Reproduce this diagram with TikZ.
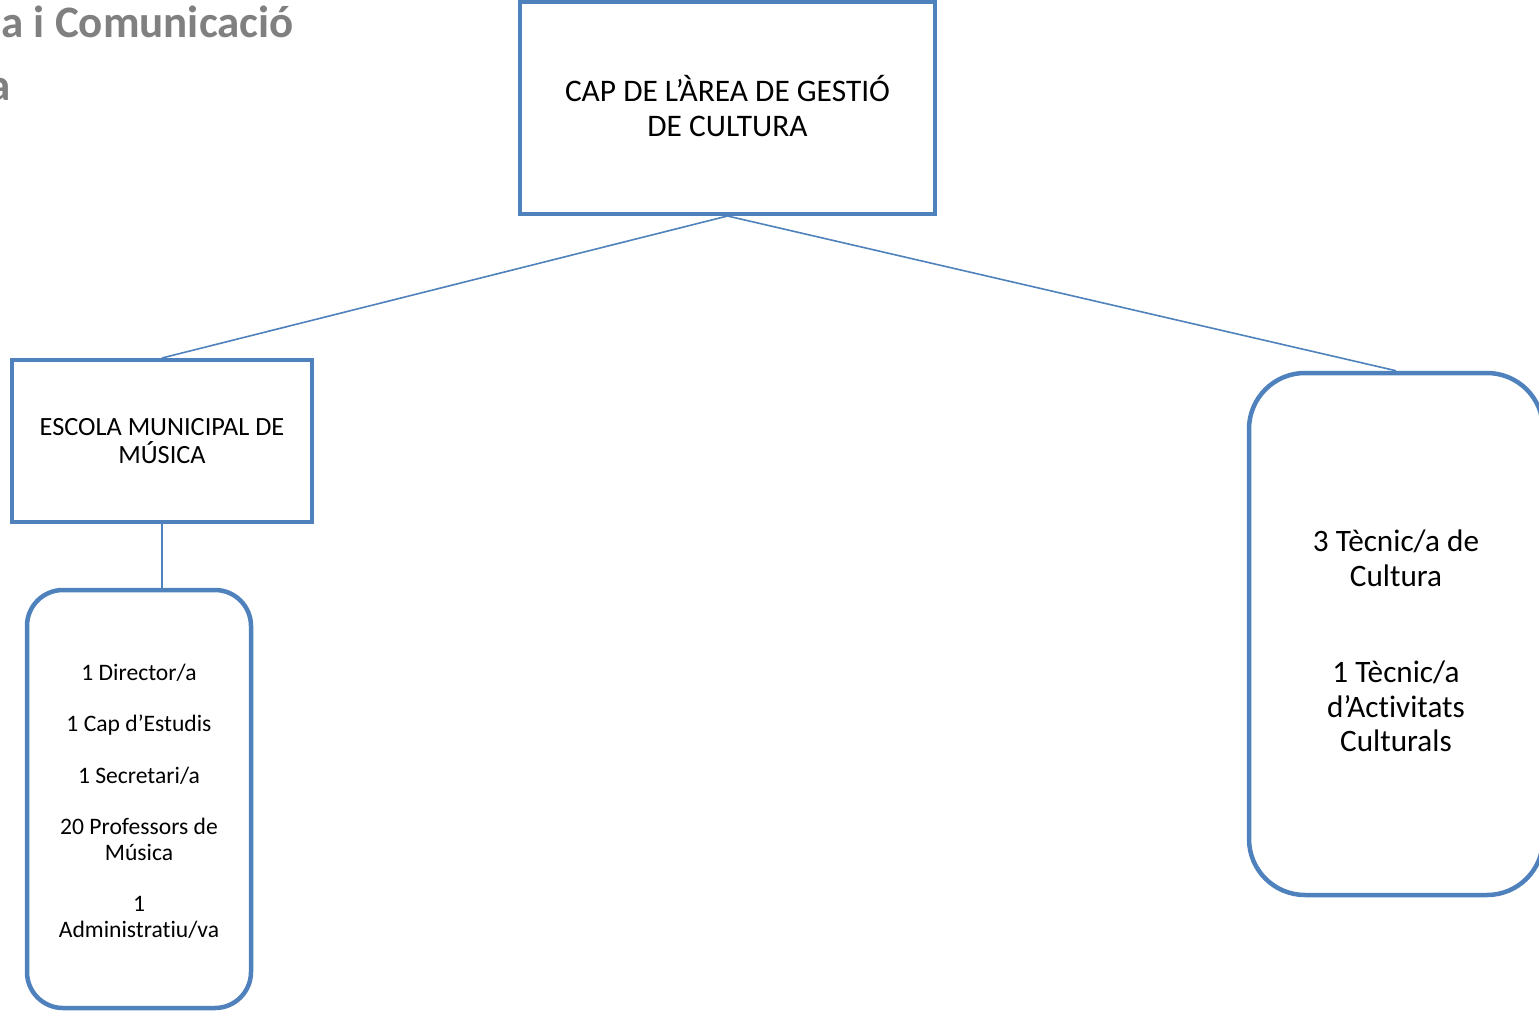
\documentclass[tikz,border=0pt]{standalone}
\usepackage{fontspec}
\setmainfont{Carlito}[Ligatures=NoCommon]
\definecolor{boxblue}{HTML}{4F81BD}
\definecolor{titlegray}{HTML}{808080}
\tikzset{
  sqbox/.style={draw=boxblue, line width=4pt, rectangle, align=center, inner sep=0pt},
  rbox/.style={draw=boxblue, line width=4.5pt, rectangle, align=center, inner sep=0pt},
  conn/.style={draw=boxblue, line width=1.6pt},
}
\begin{document}
\begin{tikzpicture}[x=1pt,y=-1pt]
\useasboundingbox (0,0) rectangle (1539,1014);
% title fragments
\node[anchor=base east, inner sep=0pt, text=titlegray, font=\fontsize{45}{52}\selectfont\bfseries] (t1) at (294,38) {a i Comunicació};
\node[anchor=base east, inner sep=0pt, text=titlegray, font=\fontsize{45}{52}\selectfont\bfseries] (t2) at (11,101) {a};
% boxes
\node[sqbox, minimum width=415pt, minimum height=212pt, font=\fontsize{31.4}{35}\selectfont] (top) at (727.5,108) {};
\node[align=center, inner sep=0pt, font=\fontsize{31.4}{35}\selectfont] (toptext) at (727.5,106) {CAP DE L’ÀREA DE GESTIÓ\\DE CULTURA};
\node[sqbox, minimum width=300pt, minimum height=162pt, font=\fontsize{26.3}{28}\selectfont] (escola) at (162,441) {ESCOLA MUNICIPAL DE\\MÚSICA};
\node[rbox, rounded corners=36pt, minimum width=224pt, minimum height=418pt] (list) at (139,799) {};
\node[align=center, inner sep=0pt, font=\fontsize{23.6}{25.7}\selectfont] (listtext) at (139,801) {1 Director/a\\[25.7pt]1 Cap d’Estudis\\[25.7pt]1 Secretari/a\\[25.7pt]20 Professors de\\Música\\[25.7pt]1\\Administratiu/va};
\node[rbox, rounded corners=56pt, minimum width=294pt, minimum height=522pt] (tec) at (1396,634) {};
\node[align=center, inner sep=0pt, font=\fontsize{31.2}{34.5}\selectfont] (tectext) at (1396,641) {3 Tècnic/a de\\Cultura\\[62pt]1 Tècnic/a\\d’Activitats\\Culturals};
% connectors
\draw[conn] (top.south) -- (escola.north);
\draw[conn] (top.south) -- (tec.north);
\draw[conn] (escola.south) -- (escola.south |- list.north);
\end{tikzpicture}
\end{document}
